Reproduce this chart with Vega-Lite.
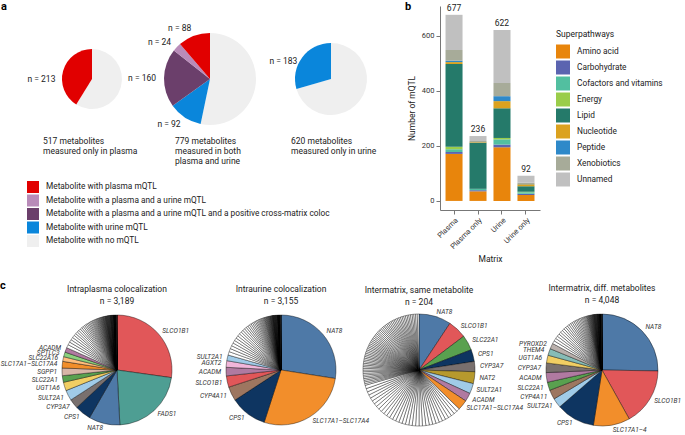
{
"$schema":"https://vega.github.io/schema/vega-lite/v6.json",
"padding":{"left":0,"top":0,"right":0,"bottom":0},
"bounds":"flush",
"spacing":304,
"resolve":{"scale":{"color":"independent"}},
"config":{
 "font":"Roboto",
 "view":{"stroke":null},
 "axis":{"grid":false,"labelFontSize":7.5,"titleFontSize":8.5,"titleFontWeight":"normal","labelColor":"#333","titleColor":"#222","domainColor":"#777","tickColor":"#777","tickSize":4,"labelPadding":2},
 "legend":{"labelFontSize":8.3,"titleFontSize":8.5,"titleFontWeight":"normal","labelColor":"#222","titleColor":"#222"},
 "title":{"fontSize":8.5,"fontWeight":"normal","color":"#222"}
},
"vconcat":[
 {"bounds":"flush","spacing":22,"resolve":{"scale":{"color":"independent"}},
  "title":{"text":"a","anchor":"start","frame":"group","fontSize":11,"fontWeight":"bold","color":"#000","dx":-7,"offset":-11},
  "hconcat":[
   {"width":168,"height":146,
    "title":{"text":["517 metabolites","measured only in plasma"],"orient":"top","anchor":"start","frame":"group","dx":35,"offset":-149,"lineHeight":10},
    "data":{"values":[{"cat":"Metabolite with no mQTL","n":304,"lab":""},{"cat":"Metabolite with plasma mQTL","n":213,"lab":"n = 213"}]},
    "transform":[{"window":[{"op":"row_number","as":"k"}]}],
    "encoding":{"theta":{"field":"n","type":"quantitative","stack":true},"order":{"field":"k","type":"quantitative"}},
    "layer":[
     {"mark":{"type":"arc","outerRadius":30},"encoding":{"color":{"field":"cat","type":"nominal","scale":{"domain":["Metabolite with plasma mQTL","Metabolite with a plasma and a urine mQTL","Metabolite with a plasma and a urine mQTL and a positive cross-matrix coloc","Metabolite with urine mQTL","Metabolite with no mQTL"],"range":["#E10000","#B98BB9","#6B3F6B","#0A86DB","#EFEFEF"]},"legend":{"title":null,"orient":"none","legendX":19,"legendY":175,"symbolType":"square","symbolSize":144,"symbolStrokeWidth":0,"symbolOpacity":1,"rowPadding":1.5,"labelOffset":7,"labelLimit":400,"labelFontSize":8.3}}}},
     {"mark":{"type":"text","radius":38,"align":"right","baseline":"middle","fontSize":8.5,"dy":10,"color":"#222"},"encoding":{"text":{"field":"lab","type":"nominal"}}}
    ]},
   {"width":24,"height":146,
    "title":{"text":["779 metabolites","measured in both","plasma and urine"],"orient":"top","anchor":"start","frame":"group","dx":-23,"offset":-159,"lineHeight":10},
    "data":{"values":[{"cat":"Metabolite with no mQTL","n":415,"lab":""},{"cat":"Metabolite with urine mQTL","n":92,"lab":"n = 92"},{"cat":"Metabolite with a plasma and a urine mQTL and a positive cross-matrix coloc","n":160,"lab":"n = 160"},{"cat":"Metabolite with a plasma and a urine mQTL","n":24,"lab":"n = 24"},{"cat":"Metabolite with plasma mQTL","n":88,"lab":"n = 88"}]},
    "transform":[{"window":[{"op":"row_number","as":"k"}]}],
    "encoding":{"theta":{"field":"n","type":"quantitative","stack":true},"order":{"field":"k","type":"quantitative"}},
    "layer":[
     {"mark":{"type":"arc","outerRadius":46},"encoding":{"color":{"field":"cat","type":"nominal","scale":{"domain":["Metabolite with plasma mQTL","Metabolite with a plasma and a urine mQTL","Metabolite with a plasma and a urine mQTL and a positive cross-matrix coloc","Metabolite with urine mQTL","Metabolite with no mQTL"],"range":["#E10000","#B98BB9","#6B3F6B","#0A86DB","#EFEFEF"]},"legend":null}}},
     {"mark":{"type":"text","radius":54,"align":"right","baseline":"middle","fontSize":8.5,"color":"#222"},"encoding":{"text":{"field":"lab","type":"nominal"}}}
    ]},
   {"width":174,"height":146,
    "title":{"text":["620 metabolites","measured only in urine"],"orient":"top","anchor":"start","frame":"group","dx":47,"offset":-149,"lineHeight":10},
    "data":{"values":[{"cat":"Metabolite with no mQTL","n":437,"lab":""},{"cat":"Metabolite with urine mQTL","n":183,"lab":"n = 183"}]},
    "transform":[{"window":[{"op":"row_number","as":"k"}]}],
    "encoding":{"theta":{"field":"n","type":"quantitative","stack":true},"order":{"field":"k","type":"quantitative"}},
    "layer":[
     {"mark":{"type":"arc","outerRadius":36},"encoding":{"color":{"field":"cat","type":"nominal","scale":{"domain":["Metabolite with plasma mQTL","Metabolite with a plasma and a urine mQTL","Metabolite with a plasma and a urine mQTL and a positive cross-matrix coloc","Metabolite with urine mQTL","Metabolite with no mQTL"],"range":["#E10000","#B98BB9","#6B3F6B","#0A86DB","#EFEFEF"]},"legend":null}}},
     {"mark":{"type":"text","radius":42,"align":"right","baseline":"middle","fontSize":8.5,"dy":7,"color":"#222"},"encoding":{"text":{"field":"lab","type":"nominal"}}}
    ]},
   {"width":100,"height":204,
    "title":{"text":"b","anchor":"start","frame":"group","fontSize":11,"fontWeight":"bold","color":"#000","dx":-35,"offset":-8},
    "data":{"values":[
     {"m":"Plasma","s":"Amino acid","v":171},{"m":"Plasma","s":"Carbohydrate","v":7},{"m":"Plasma","s":"Cofactors and vitamins","v":10},{"m":"Plasma","s":"Energy","v":9},{"m":"Plasma","s":"Lipid","v":301},{"m":"Plasma","s":"Nucleotide","v":7},{"m":"Plasma","s":"Peptide","v":5},{"m":"Plasma","s":"Xenobiotics","v":39},{"m":"Plasma","s":"Unnamed","v":128},
     {"m":"Plasma only","s":"Amino acid","v":35},{"m":"Plasma only","s":"Carbohydrate","v":4},{"m":"Plasma only","s":"Cofactors and vitamins","v":5},{"m":"Plasma only","s":"Lipid","v":168},{"m":"Plasma only","s":"Nucleotide","v":2},{"m":"Plasma only","s":"Xenobiotics","v":4},{"m":"Plasma only","s":"Unnamed","v":18},
     {"m":"Urine","s":"Amino acid","v":195},{"m":"Urine","s":"Carbohydrate","v":10},{"m":"Urine","s":"Cofactors and vitamins","v":19},{"m":"Urine","s":"Energy","v":5},{"m":"Urine","s":"Lipid","v":108},{"m":"Urine","s":"Nucleotide","v":26},{"m":"Urine","s":"Peptide","v":18},{"m":"Urine","s":"Xenobiotics","v":48},{"m":"Urine","s":"Unnamed","v":193},
     {"m":"Urine only","s":"Amino acid","v":22},{"m":"Urine only","s":"Carbohydrate","v":4},{"m":"Urine only","s":"Cofactors and vitamins","v":6},{"m":"Urine only","s":"Energy","v":1},{"m":"Urine only","s":"Lipid","v":20},{"m":"Urine only","s":"Nucleotide","v":8},{"m":"Urine only","s":"Peptide","v":1},{"m":"Urine only","s":"Xenobiotics","v":4},{"m":"Urine only","s":"Unnamed","v":26}
    ]},
    "transform":[{"calculate":"indexof(['Amino acid','Carbohydrate','Cofactors and vitamins','Energy','Lipid','Nucleotide','Peptide','Xenobiotics','Unnamed'], datum.s)","as":"o"}],
    "encoding":{"x":{"field":"m","type":"nominal","sort":["Plasma","Plasma only","Urine","Urine only"],"scale":{"paddingInner":0.29,"paddingOuter":0.23},"axis":{"title":"Matrix","labelAngle":-45,"titlePadding":4}}},
    "layer":[
     {"mark":{"type":"bar"},
      "encoding":{
       "y":{"field":"v","type":"quantitative","stack":"zero","scale":{"domain":[-33,709],"nice":false,"zero":false},"axis":{"title":"Number of mQTL","values":[0,200,400,600],"titlePadding":5}},
       "color":{"field":"s","type":"nominal","scale":{"domain":["Amino acid","Carbohydrate","Cofactors and vitamins","Energy","Lipid","Nucleotide","Peptide","Xenobiotics","Unnamed"],"range":["#E8850C","#5B64B0","#52BFA0","#9ACD4A","#257A6A","#DBA21F","#2E89C9","#A7AB99","#C0C0C0"]},"legend":{"title":"Superpathways","orient":"none","legendX":116,"legendY":24,"symbolType":"square","symbolSize":196,"symbolStrokeWidth":0,"symbolOpacity":1,"rowPadding":2,"labelOffset":7,"titlePadding":6,"labelLimit":200}},
       "order":{"field":"o","type":"quantitative"}}},
     {"mark":{"type":"text","baseline":"bottom","dy":-2,"fontSize":8.5,"color":"#222"},
      "encoding":{
       "y":{"aggregate":"sum","field":"v","type":"quantitative","axis":{"title":"Number of mQTL","values":[0,200,400,600],"titlePadding":5}},
       "text":{"aggregate":"sum","field":"v","type":"quantitative"}}}
    ]}
  ]},
 {"bounds":"flush","spacing":20,
  "title":{"text":"c","anchor":"start","frame":"group","fontSize":11,"fontWeight":"bold","color":"#000","dx":-8,"offset":-7},
  "hconcat":[
   {"width":218,"height":120,
    "title":{"text":["Intraplasma colocalization","n = 3,189"],"anchor":"middle","frame":"group","lineHeight":12,"offset":2},
    "data":{"values":[{"g":"SLCO1B1","v":868},{"g":"FADS1","v":700},{"g":"NAT8","v":292},{"g":"CPS1","v":151},{"g":"CYP3A7","v":89},{"g":"SULT2A1","v":97},{"g":"UGT1A6","v":80},{"g":"SLC22A1","v":62},{"g":"SGPP1","v":71},{"g":"SLC17A1–SLC17A4","v":62},{"g":"SLC22A16","v":44},{"g":"SPTLC3","v":44},{"g":"ACADM","v":44},
     {"v":30},{"v":28},{"v":26},{"v":25},{"v":24},{"v":22},{"v":21},{"v":20},{"v":19},{"v":18},{"v":17},{"v":16},{"v":15},{"v":14},{"v":13},{"v":12},{"v":12},{"v":11},{"v":10},{"v":10},{"v":9},{"v":9},{"v":8},{"v":8},
     {"v":7},{"v":7},{"v":6},{"v":6},{"v":6},{"v":5},{"v":5},{"v":5},{"v":5},{"v":4},{"v":4},{"v":4},{"v":4},{"v":4},{"v":4},
     {"v":3},{"v":3},{"v":3},{"v":3},{"v":3},{"v":3},{"v":3},{"v":3},{"v":3},{"v":3},{"v":3},{"v":3},{"v":3},{"v":3},{"v":3},{"v":3},
     {"v":2},{"v":2},{"v":2},{"v":2},{"v":2},{"v":2},{"v":2},{"v":2},{"v":2},{"v":2},{"v":2},{"v":2},{"v":2},{"v":2},{"v":2},{"v":2},{"v":2},
     {"v":1},{"v":1},{"v":1},{"v":1},{"v":1},{"v":1},{"v":1},{"v":1},{"v":1},{"v":1},
     {"v":1},{"v":1},{"v":1},{"v":1},{"v":1},{"v":1},{"v":1},{"v":1},{"v":1},{"v":1},
     {"v":1},{"v":1},{"v":1},{"v":1},{"v":1},{"v":1},{"v":1},{"v":1},{"v":1},{"v":1}]},
    "transform":[{"window":[{"op":"row_number","as":"k"}]},{"window":[{"op":"sum","field":"v","as":"cum"}],"frame":[null,0]},{"joinaggregate":[{"op":"sum","field":"v","as":"tot"}]},{"calculate":"datum.g && (datum.cum - datum.v/2) < datum.tot/2 ? datum.g : ''","as":"lr"},{"calculate":"datum.g && (datum.cum - datum.v/2) >= datum.tot/2 ? datum.g : ''","as":"ll"}],
    "encoding":{"theta":{"field":"v","type":"quantitative","stack":true},"order":{"field":"k","type":"quantitative"}},
    "layer":[
     {"mark":{"type":"arc","outerRadius":55,"stroke":"#000","strokeWidth":0.4},"encoding":{"color":{"condition":{"test":"!datum.g","value":"#ffffff"},"field":"g","type":"nominal","scale":{"domain":["SLCO1B1","FADS1","NAT8","CPS1","CYP3A7","SULT2A1","UGT1A6","SLC22A1","SGPP1","SLC17A1–SLC17A4","SLC17A1–4","SLC22A16","SPTLC3","ACADM","AGXT2","CYP4A11","NAT2","THEM4","PYROXD2"],"range":["#E15759","#4E9E93","#4E79A7","#0E3561","#79706E","#A0CBE8","#F1CE63","#59A14F","#D7B5A6","#F28E2B","#F28E2B","#FFBE7D","#8CD17D","#B07AA1","#F1B6DA","#9D7660","#B6992D","#86BCB6","#BAB0AC"]},"legend":null}}},
     {"mark":{"type":"text","radius":60,"align":"left","baseline":"middle","fontSize":6.6,"fontStyle":"italic","color":"#333"},"encoding":{"text":{"field":"lr","type":"nominal"}}},
     {"mark":{"type":"text","radius":60,"align":"right","baseline":"middle","fontSize":6.6,"fontStyle":"italic","color":"#333"},"encoding":{"text":{"field":"ll","type":"nominal"}}}
    ]},
   {"width":70,"height":120,
    "title":{"text":["Intraurine colocalization","n = 3,155"],"anchor":"middle","frame":"group","lineHeight":12,"offset":2},
    "data":{"values":[{"g":"NAT8","v":867},{"g":"SLC17A1–SLC17A4","v":867},{"g":"CPS1","v":342},{"g":"CYP4A11","v":131},{"g":"SLCO1B1","v":105},{"g":"ACADM","v":79},{"g":"AGXT2","v":61},{"g":"SULT2A1","v":53},
     {"v":32},{"v":30},{"v":29},{"v":28},{"v":27},{"v":26},{"v":25},{"v":24},{"v":23},{"v":22},{"v":21},{"v":20},{"v":19},{"v":18},{"v":17},{"v":16},{"v":15},{"v":14},{"v":13},{"v":12},{"v":11},{"v":10},{"v":10},{"v":9},{"v":9},{"v":8},
     {"v":7},{"v":6},{"v":6},{"v":6},{"v":5},{"v":5},{"v":5},{"v":5},{"v":4},{"v":4},{"v":4},{"v":4},{"v":3},{"v":3},{"v":3},{"v":3},{"v":3},{"v":3},{"v":3},{"v":2},
     {"v":2},{"v":2},{"v":2},{"v":2},{"v":2},{"v":2},{"v":2},{"v":2},{"v":2},{"v":2},{"v":2},{"v":2},
     {"v":2},{"v":2},{"v":2},{"v":2},{"v":2},{"v":2},{"v":2},{"v":2},{"v":2},{"v":2},{"v":2},{"v":2},
     {"v":1},{"v":1},{"v":1},{"v":1},{"v":1},{"v":1},{"v":1},{"v":1},{"v":1},{"v":1},
     {"v":1},{"v":1},{"v":1},{"v":1},{"v":1},{"v":1},{"v":1},{"v":1},{"v":1},{"v":1},
     {"v":1},{"v":1},{"v":1},{"v":1},{"v":1},{"v":1},{"v":1},{"v":1},{"v":1},{"v":1}]},
    "transform":[{"window":[{"op":"row_number","as":"k"}]},{"window":[{"op":"sum","field":"v","as":"cum"}],"frame":[null,0]},{"joinaggregate":[{"op":"sum","field":"v","as":"tot"}]},{"calculate":"datum.g && (datum.cum - datum.v/2) < datum.tot/2 ? datum.g : ''","as":"lr"},{"calculate":"datum.g && (datum.cum - datum.v/2) >= datum.tot/2 ? datum.g : ''","as":"ll"}],
    "encoding":{"theta":{"field":"v","type":"quantitative","stack":true},"order":{"field":"k","type":"quantitative"}},
    "layer":[
     {"mark":{"type":"arc","outerRadius":55,"stroke":"#000","strokeWidth":0.4},"encoding":{"color":{"condition":{"test":"!datum.g","value":"#ffffff"},"field":"g","type":"nominal","scale":{"domain":["SLCO1B1","FADS1","NAT8","CPS1","CYP3A7","SULT2A1","UGT1A6","SLC22A1","SGPP1","SLC17A1–SLC17A4","SLC17A1–4","SLC22A16","SPTLC3","ACADM","AGXT2","CYP4A11","NAT2","THEM4","PYROXD2"],"range":["#E15759","#4E9E93","#4E79A7","#0E3561","#79706E","#A0CBE8","#F1CE63","#59A14F","#D7B5A6","#F28E2B","#F28E2B","#FFBE7D","#8CD17D","#B07AA1","#F1B6DA","#9D7660","#B6992D","#86BCB6","#BAB0AC"]},"legend":null}}},
     {"mark":{"type":"text","radius":60,"align":"left","baseline":"middle","fontSize":6.6,"fontStyle":"italic","color":"#333"},"encoding":{"text":{"field":"lr","type":"nominal"}}},
     {"mark":{"type":"text","radius":60,"align":"right","baseline":"middle","fontSize":6.6,"fontStyle":"italic","color":"#333"},"encoding":{"text":{"field":"ll","type":"nominal"}}}
    ]},
   {"width":166,"height":120,
    "title":{"text":["Intermatrix, same metabolite","n = 204"],"anchor":"middle","frame":"group","lineHeight":12,"offset":0},
    "data":{"values":[{"g":"NAT8","v":19},{"g":"SLCO1B1","v":11},{"g":"SLC22A1","v":9},{"g":"CPS1","v":7},{"g":"CYP3A7","v":6},{"g":"NAT2","v":7},{"g":"SULT2A1","v":6},{"g":"ACADM","v":5},{"g":"SLC17A1–SLC17A4","v":6},
     {"v":2},{"v":2},{"v":2},{"v":2},{"v":2},{"v":2},{"v":2},{"v":2},{"v":2},{"v":2},
     {"v":2},{"v":2},{"v":2},{"v":2},{"v":2},{"v":2},{"v":2},{"v":2},{"v":2},{"v":2},
     {"v":2},{"v":2},{"v":2},{"v":2},{"v":2},{"v":2},{"v":2},{"v":2},{"v":2},{"v":2},
     {"v":2},{"v":2},{"v":2},{"v":2},
     {"v":1},{"v":1},{"v":1},{"v":1},{"v":1},{"v":1},{"v":1},{"v":1},{"v":1},{"v":1},
     {"v":1},{"v":1},{"v":1},{"v":1},{"v":1},{"v":1},{"v":1},{"v":1},{"v":1},{"v":1},
     {"v":1},{"v":1},{"v":1},{"v":1},{"v":1},{"v":1},{"v":1},{"v":1},{"v":1},{"v":1},
     {"v":1},{"v":1},{"v":1},{"v":1},{"v":1},{"v":1},{"v":1},{"v":1},{"v":1},{"v":1},
     {"v":1},{"v":1},{"v":1},{"v":1},{"v":1},{"v":1},{"v":1},{"v":1},{"v":1},{"v":1},
     {"v":1},{"v":1},{"v":1},{"v":1},{"v":1},{"v":1},{"v":1},{"v":1},{"v":1},{"v":1}]},
    "transform":[{"window":[{"op":"row_number","as":"k"}]},{"window":[{"op":"sum","field":"v","as":"cum"}],"frame":[null,0]},{"joinaggregate":[{"op":"sum","field":"v","as":"tot"}]},{"calculate":"datum.g && (datum.cum - datum.v/2) < datum.tot/2 ? datum.g : ''","as":"lr"},{"calculate":"datum.g && (datum.cum - datum.v/2) >= datum.tot/2 ? datum.g : ''","as":"ll"}],
    "encoding":{"theta":{"field":"v","type":"quantitative","stack":true},"order":{"field":"k","type":"quantitative"}},
    "layer":[
     {"mark":{"type":"arc","outerRadius":56,"stroke":"#000","strokeWidth":0.4},"encoding":{"color":{"condition":{"test":"!datum.g","value":"#ffffff"},"field":"g","type":"nominal","scale":{"domain":["SLCO1B1","FADS1","NAT8","CPS1","CYP3A7","SULT2A1","UGT1A6","SLC22A1","SGPP1","SLC17A1–SLC17A4","SLC17A1–4","SLC22A16","SPTLC3","ACADM","AGXT2","CYP4A11","NAT2","THEM4","PYROXD2"],"range":["#E15759","#4E9E93","#4E79A7","#0E3561","#79706E","#A0CBE8","#F1CE63","#59A14F","#D7B5A6","#F28E2B","#F28E2B","#FFBE7D","#8CD17D","#B07AA1","#F1B6DA","#9D7660","#B6992D","#86BCB6","#BAB0AC"]},"legend":null}}},
     {"mark":{"type":"text","radius":61,"align":"left","baseline":"middle","fontSize":6.6,"fontStyle":"italic","color":"#333"},"encoding":{"text":{"field":"lr","type":"nominal"}}},
     {"mark":{"type":"text","radius":61,"align":"right","baseline":"middle","fontSize":6.6,"fontStyle":"italic","color":"#333"},"encoding":{"text":{"field":"ll","type":"nominal"}}}
    ]},
   {"width":160,"height":120,
    "title":{"text":["Intermatrix, diff. metabolites","n = 4,048"],"anchor":"middle","frame":"group","lineHeight":12,"offset":2},
    "data":{"values":[{"g":"NAT8","v":1023},{"g":"SLCO1B1","v":674},{"g":"SLC17A1–4","v":427},{"g":"CPS1","v":450},{"g":"SULT2A1","v":112},{"g":"CYP4A11","v":112},{"g":"SLC22A1","v":96},{"g":"ACADM","v":112},{"g":"CYP3A7","v":112},{"g":"UGT1A6","v":90},{"g":"THEM4","v":79},{"g":"PYROXD2","v":67},
     {"v":35},{"v":33},{"v":32},{"v":30},{"v":29},{"v":28},{"v":27},{"v":26},{"v":25},{"v":24},{"v":23},{"v":22},{"v":21},{"v":20},{"v":19},{"v":18},{"v":17},{"v":16},{"v":15},{"v":14},{"v":13},{"v":12},{"v":11},
     {"v":8},{"v":8},{"v":7},{"v":7},{"v":6},{"v":6},{"v":6},{"v":5},{"v":5},{"v":5},{"v":5},{"v":4},{"v":4},{"v":4},{"v":4},{"v":4},{"v":3},{"v":3},{"v":3},{"v":3},
     {"v":3},{"v":3},{"v":3},{"v":3},{"v":3},{"v":3},{"v":3},{"v":3},{"v":3},{"v":3},
     {"v":2},{"v":2},{"v":2},{"v":2},{"v":2},{"v":2},{"v":2},{"v":2},{"v":2},{"v":2},{"v":2},{"v":2},{"v":2},{"v":2},{"v":2},
     {"v":1},{"v":1},{"v":1},{"v":1},{"v":1},{"v":1},{"v":1},{"v":1},{"v":1},{"v":1},
     {"v":1},{"v":1},{"v":1},{"v":1},{"v":1},{"v":1},{"v":1},{"v":1},{"v":1},{"v":1},
     {"v":1},{"v":1},{"v":1},{"v":1}]},
    "transform":[{"window":[{"op":"row_number","as":"k"}]},{"window":[{"op":"sum","field":"v","as":"cum"}],"frame":[null,0]},{"joinaggregate":[{"op":"sum","field":"v","as":"tot"}]},{"calculate":"datum.g && (datum.cum - datum.v/2) < datum.tot/2 ? datum.g : ''","as":"lr"},{"calculate":"datum.g && (datum.cum - datum.v/2) >= datum.tot/2 ? datum.g : ''","as":"ll"}],
    "encoding":{"theta":{"field":"v","type":"quantitative","stack":true},"order":{"field":"k","type":"quantitative"}},
    "layer":[
     {"mark":{"type":"arc","outerRadius":56,"stroke":"#000","strokeWidth":0.4},"encoding":{"color":{"condition":{"test":"!datum.g","value":"#ffffff"},"field":"g","type":"nominal","scale":{"domain":["SLCO1B1","FADS1","NAT8","CPS1","CYP3A7","SULT2A1","UGT1A6","SLC22A1","SGPP1","SLC17A1–SLC17A4","SLC17A1–4","SLC22A16","SPTLC3","ACADM","AGXT2","CYP4A11","NAT2","THEM4","PYROXD2"],"range":["#E15759","#4E9E93","#4E79A7","#0E3561","#79706E","#A0CBE8","#F1CE63","#59A14F","#D7B5A6","#F28E2B","#F28E2B","#FFBE7D","#8CD17D","#B07AA1","#F1B6DA","#9D7660","#B6992D","#86BCB6","#BAB0AC"]},"legend":null}}},
     {"mark":{"type":"text","radius":61,"align":"left","baseline":"middle","fontSize":6.6,"fontStyle":"italic","color":"#333"},"encoding":{"text":{"field":"lr","type":"nominal"}}},
     {"mark":{"type":"text","radius":61,"align":"right","baseline":"middle","fontSize":6.6,"fontStyle":"italic","color":"#333"},"encoding":{"text":{"field":"ll","type":"nominal"}}}
    ]}
  ]}
]
}
